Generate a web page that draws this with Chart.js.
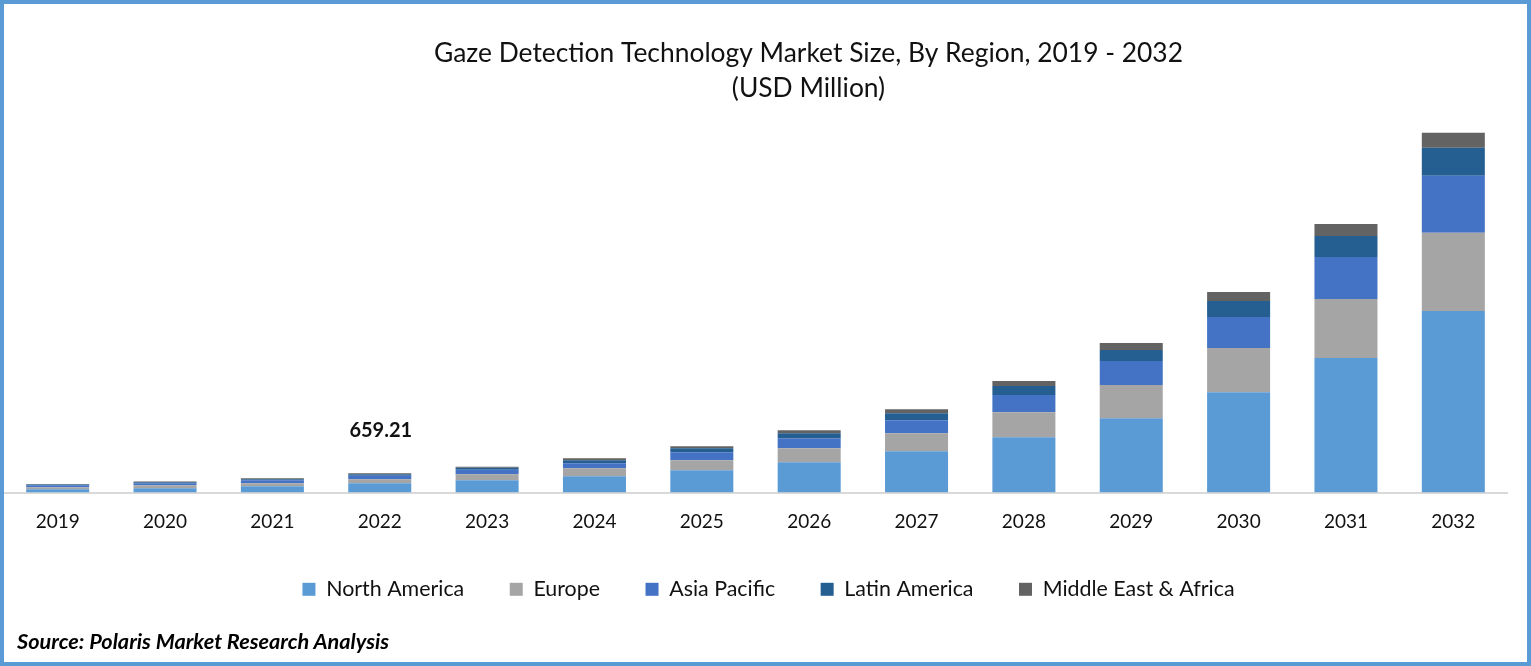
<!DOCTYPE html>
<html>
<head>
<meta charset="utf-8">
<title>Gaze Detection Technology Market Size</title>
<script src="https://cdn.jsdelivr.net/npm/chart.js@4"></script>
<style>
	html, body { margin: 0; padding: 0; background: #fff; }
	#frame {
		position: relative;
		box-sizing: border-box;
		width: 1531px;
		height: 666px;
		border: 4px solid #5b9bd5;
		overflow: hidden;
	}
	#chartBox { position: absolute; left: 0; top: 0; width: 1523px; height: 658px; }
	#source {
		position: absolute;
		left: 13px;
		top: 624px;
		font: italic 700 21.7px Lato, sans-serif;
		line-height: 26px;
		color: #000;
	}
</style>
</head>
<body>
<div id="frame">
	<div id="chartBox"><canvas id="gazeChart"></canvas></div>
	<div id="source">Source: Polaris Market Research Analysis</div>
</div>
<script>
var years = ['2019', '2020', '2021', '2022', '2023', '2024', '2025', '2026', '2027', '2028', '2029', '2030', '2031', '2032'];
var northAmerica = [104, 139, 208, 312, 416, 555, 763, 1041, 1423, 1909, 2568, 3470, 4650, 6281];
var europe = [69, 104, 104, 139, 208, 278, 347, 486, 625, 868, 1145, 1527, 2047, 2707];
var asiaPacific = [69, 69, 104, 121, 156, 174, 278, 347, 451, 590, 833, 1076, 1457, 1978];
var latinAmerica = [24, 35, 35, 52, 69, 104, 139, 174, 243, 312, 382, 555, 729, 972];
var middleEastAfrica = [21, 24, 35, 35, 35, 69, 69, 104, 139, 174, 243, 312, 416, 520];
var calloutYear = '2022';
var calloutText = '659.21';

var FONT = 'Lato, sans-serif';
var TEXT = '#111';

function series(label, data, color) {
	return { label: label, data: data, backgroundColor: color, borderWidth: 0 };
}

// title and legend are not centred on the page in the original
var boxNudge = {
	id: 'boxNudge',
	afterLayout: function (chart) {
		chart.titleBlock.left += 106;
		chart.legend.left += 13;
		chart.legend.right += 13;
		chart.legend.top -= 9;
	},
};

// total written well above the 2022 bar
var callout = {
	id: 'callout',
	afterDatasetsDraw: function (chart) {
		var i = years.indexOf(calloutYear);
		var ctx = chart.ctx;
		ctx.save();
		ctx.font = '700 20px ' + FONT;
		ctx.fillStyle = TEXT;
		ctx.textAlign = 'center';
		ctx.textBaseline = 'middle';
		ctx.fillText(calloutText, chart.scales.x.getPixelForValue(i) + 1, chart.scales.y.getPixelForValue(659) - 43);
		ctx.restore();
	},
};

new Chart(document.getElementById('gazeChart'), {
	type: 'bar',
	data: {
		labels: years,
		datasets: [
			series('North America', northAmerica, '#5b9bd5'),
			series('Europe', europe, '#a5a5a5'),
			series('Asia Pacific', asiaPacific, '#4472c4'),
			series('Latin America', latinAmerica, '#255e91'),
			series('Middle East & Africa', middleEastAfrica, '#636363'),
		],
	},
	options: {
		responsive: true,
		maintainAspectRatio: false,
		animation: false,
		layout: { padding: { left: 0, right: 20, top: 0, bottom: 43 } },
		datasets: { bar: { categoryPercentage: 1, barPercentage: 0.587 } },
		plugins: {
			title: {
				display: true,
				text: ['Gaze Detection Technology Market Size, By Region, 2019 - 2032', '(USD Million)'],
				color: TEXT,
				font: { family: FONT, size: 26.4, weight: '400', lineHeight: 1.32 },
				padding: { top: 32, bottom: 19 },
			},
			legend: {
				position: 'bottom',
				labels: {
					color: TEXT,
					font: { family: FONT, size: 21.4 },
					boxWidth: 13,
					boxHeight: 13,
					padding: 45.5,
				},
			},
			tooltip: { enabled: false },
		},
		scales: {
			x: {
				stacked: true,
				grid: { display: false },
				border: { color: '#d9d9d9', width: 2 },
				ticks: { color: TEXT, font: { family: FONT, size: 19 }, padding: 9, maxRotation: 0 },
			},
			y: {
				stacked: true,
				display: false,
				min: -35,
				max: 12735,
			},
		},
	},
	plugins: [boxNudge, callout],
});
</script>
</body>
</html>
